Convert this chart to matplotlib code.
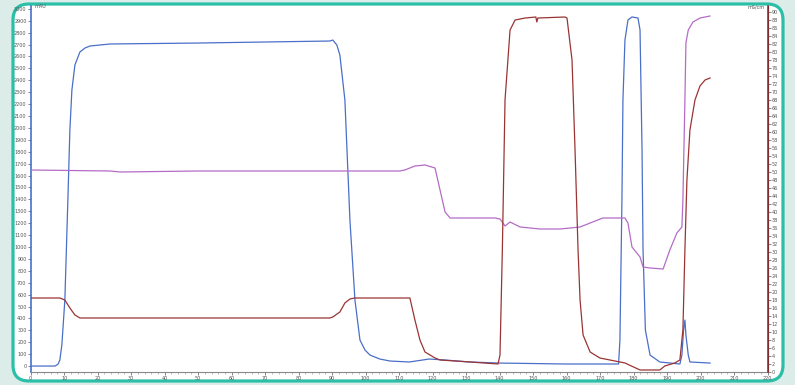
import numpy as np
from matplotlib import pyplot as plt
from matplotlib.patches import FancyBboxPatch

# UV trace (mAU, left axis)
uv_x = [0, 7.3, 8.2, 8.7, 9.3, 9.6, 10.2, 11.1, 11.7, 12.3, 13.2, 14.7, 16.2, 17.7, 23.7, 50,
        89.3, 90.2, 91.4, 92.3, 93.8, 95.3, 96.8, 98.3, 99.8, 101.3, 104.2, 107.3, 113, 119, 124,
        131, 140, 160, 175.5, 175.9, 176.5, 176.8, 177.4, 178.3, 179.5, 181.3, 181.9,
        182.5, 182.8, 183.5, 184.9, 187.8, 193.8, 194.4, 194.9, 195.3, 195.6, 196.3,
        196.8, 202.8]
uv_y = [0, 0, 17, 50, 176, 302, 554, 1394, 1982, 2318, 2528, 2638, 2671, 2688, 2705, 2713,
        2730, 2738, 2696, 2612, 2234, 1226, 554, 218, 134, 92, 59, 42, 34, 59, 50,
        34, 25, 17, 17, 218, 1394, 2234, 2738, 2906, 2932, 2923, 2822,
        1814, 974, 302, 92, 34, 17, 92, 302, 386, 260, 92,
        34, 25]

# conductivity trace (right axis)
cond_x = [0, 8.7, 10.2, 11.7, 13.2, 14.7, 89.3, 90.2, 92.3, 93.8, 95.3, 96.8, 113.2,
          114.7, 116.2, 117.7, 120.7, 122.2, 131.1, 139.5, 140.1, 140.8, 141.6, 143.1,
          144.6, 147.6, 150.8, 151.1, 151.4, 159.5, 160.1, 161.6, 162.5, 163.4, 164.0,
          164.9, 167.0, 169.9, 174.4, 177.4, 181.9, 187.8, 189.3, 192.3, 193.8, 194.7,
          195.3, 195.9, 196.8, 198.3, 199.8, 201.3, 202.8]
cond_y = [18.5, 18.5, 18, 16, 14.25, 13.5, 13.5, 13.75, 15, 17.25, 18.25, 18.5, 18.5,
          13, 8, 5, 3.5, 3, 2.5, 2, 4.25, 30.5, 68, 85.5,
          88, 88.5, 88.75, 87.5, 88.5, 88.75, 88.5, 78, 55.5, 30.5, 18,
          9.25, 5, 3.5, 2.75, 2.25, 0.5, 0.5, 1.5, 2.25, 3, 10.5,
          30.5, 48, 60.5, 68, 71.5, 73, 73.5]

# third trace (purple, right axis scale)
p_x = [0, 23.7, 26.7, 50, 110.2, 111.7, 114.7, 117.7, 120.7, 122.2, 123.7, 125.2,
       138.6, 140.1, 141.6, 143.1, 146.1, 152.0, 158.0, 164.0, 170.8, 177.4, 178.3,
       179.5, 181.9, 182.8, 184.9, 188.8, 190.8, 192.9, 194.4, 194.7, 195.3, 195.6,
       196.3, 197.7, 199.8, 202.8]
p_y = [50.5, 50.25, 50, 50.25, 50.25, 50.5, 51.5, 51.75, 51, 45.5, 40, 38.5,
       38.5, 38.25, 36.5, 37.5, 36.25, 35.75, 35.75, 36.25, 38.5, 38.5, 37.25,
       31.25, 28.75, 26.25, 26, 25.75, 30.5, 34.75, 36.25, 43, 68, 82.25,
       85.5, 87.5, 88.5, 89]

blue = '#4a6fc8'
red = '#9a3434'
purple = '#b56cc6'

fig = plt.figure(figsize=(7.95, 3.85), dpi=100)
fig.patch.set_facecolor('#dcece9')

box = FancyBboxPatch((0.13, 0.04), 7.70, 3.77,
                     boxstyle='round,pad=0,rounding_size=0.16',
                     transform=fig.dpi_scale_trans,
                     facecolor='white', edgecolor='#2bbfa8', linewidth=2.3,
                     zorder=0)
fig.add_artist(box)

ax = fig.add_axes([0.0386, 0.0338, 0.927, 0.9506])
ax.set_facecolor('none')
ax2 = ax.twinx()

ax.plot(uv_x, uv_y, color=blue, lw=0.9)
ax2.plot(p_x, p_y, color=purple, lw=0.9)
ax2.plot(cond_x, cond_y, color=red, lw=0.9)

ax.set_xlim(0, 220)
ax.set_ylim(-50, 3024)
ax2.set_ylim(0, 91.5)

ax.set_xticks(np.arange(0, 221, 10))
ax.set_xticks(np.arange(0, 221, 2), minor=True)
ax.set_yticks(np.arange(0, 3001, 100))
ax2.set_yticks(np.arange(0, 91, 2))

for a in (ax, ax2):
    a.spines['top'].set_visible(False)
    a.tick_params(labelsize=3.5, length=2, width=0.5, pad=1, colors='#555555')
ax.tick_params(axis='x', which='minor', length=1.5, width=0.4, colors='#888888')
ax.spines['left'].set_color(blue)
ax.spines['left'].set_linewidth(1.2)
ax.spines['bottom'].set_color('#888888')
ax2.spines['right'].set_color(red)
ax2.spines['right'].set_linewidth(1.2)
ax2.spines['left'].set_visible(False)
ax2.spines['bottom'].set_visible(False)

fig.text(0.044, 0.982, 'mAU', fontsize=3.5, color='#555555', va='center')
fig.text(0.962, 0.982, 'mS/cm', fontsize=3.5, color='#555555', va='center', ha='right')

plt.savefig('out.png', dpi=100, facecolor=fig.get_facecolor())
